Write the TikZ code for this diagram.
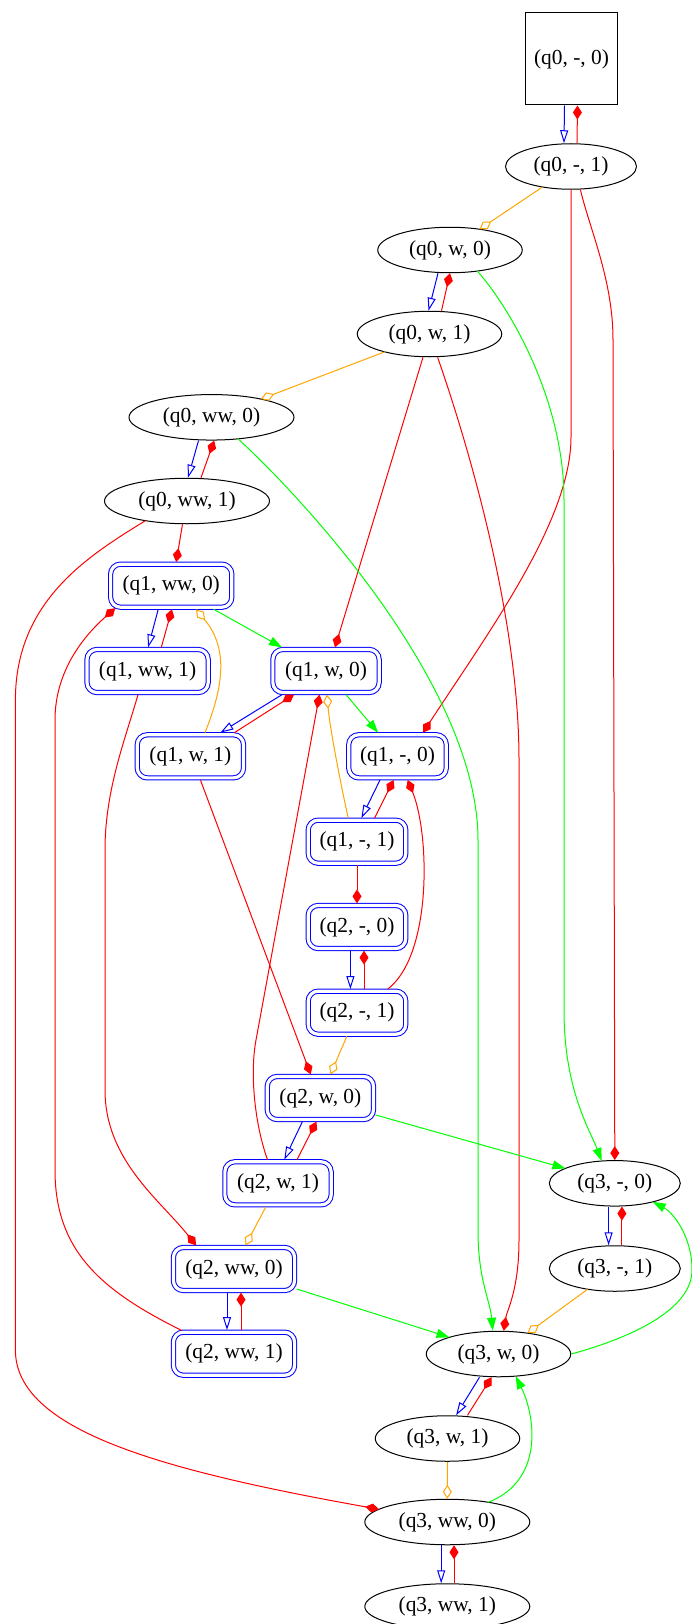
\documentclass[tikz,border=0pt]{standalone}
\usepackage{fontspec}
\setmainfont{Liberation Serif}
\usetikzlibrary{arrows.meta,calc,shapes.geometric}
\definecolor{laranjagv}{RGB}{255,165,0}

\begin{document}
\begin{tikzpicture}[x=1pt, y=-1pt,
    every node/.style={font=\fontsize{21.4}{24}\selectfont, inner sep=0pt},
    inicial/.style={draw, line width=1pt, minimum width=92pt, minimum height=92pt},
    elipse/.style={draw, ellipse, line width=1pt, minimum height=45.5pt, minimum width=#1},
    final/.style={draw=blue, double, double distance=3.2pt, line width=1pt,
        rounded corners=10pt, minimum height=43.1pt, minimum width=#1, outer sep=2.1pt},
    azul/.style={blue, line width=1pt, -{Triangle[open, length=13pt, width=8pt]}},
    verde/.style={green, line width=1pt, -{Triangle[length=13pt, width=9pt]}},
    vermelho/.style={red, line width=1pt, -{Diamond[length=14pt, width=9pt]}},
    laranja/.style={laranjagv, line width=1pt, -{Diamond[open, length=14pt, width=9pt]}}]

    \useasboundingbox (0,0) rectangle (691,1624);

    % estados q0
    \node[inicial] (q0e0) at (571.5,59) {(q0, -, 0)};
    \node[elipse=131pt] (q0e1) at (571,166.5) {(q0, -, 1)};
    \node[elipse=144.5pt] (q0w0) at (450,250) {(q0, w, 0)};
    \node[elipse=144.5pt] (q0w1) at (429.5,334) {(q0, w, 1)};
    \node[elipse=165pt] (q0ww0) at (211.5,417.3) {(q0, ww, 0)};
    \node[elipse=165pt] (q0ww1) at (187,501) {(q0, ww, 1)};

    % estados q1 e q2
    \node[final=121.2pt] (q1ww0) at (171.2,585.7) {(q1, ww, 0)};
    \node[final=121.2pt] (q1ww1) at (147.6,671) {(q1, ww, 1)};
    \node[final=106.3pt] (q1w0) at (326,671) {(q1, w, 0)};
    \node[final=106.3pt] (q1w1) at (190.4,756.3) {(q1, w, 1)};
    \node[final=97.6pt] (q1e0) at (397.5,756.3) {(q1, -, 0)};
    \node[final=97.6pt] (q1e1) at (357,841.7) {(q1, -, 1)};
    \node[final=97.6pt] (q2e0) at (357,927) {(q2, -, 0)};
    \node[final=97.6pt] (q2e1) at (357,1012.7) {(q2, -, 1)};
    \node[final=106.3pt] (q2w0) at (320.4,1098) {(q2, w, 0)};
    \node[final=106.3pt] (q2w1) at (278,1183.3) {(q2, w, 1)};
    \node[final=121.2pt] (q2ww0) at (234,1269) {(q2, ww, 0)};
    \node[final=121.2pt] (q2ww1) at (234,1353.7) {(q2, ww, 1)};

    % estados q3
    \node[elipse=131pt] (q3e0) at (614.8,1183.3) {(q3, -, 0)};
    \node[elipse=131pt] (q3e1) at (614.8,1268.5) {(q3, -, 1)};
    \node[elipse=144.5pt] (q3w0) at (498.5,1354) {(q3, w, 0)};
    \node[elipse=144.5pt] (q3w1) at (447.5,1438.5) {(q3, w, 1)};
    \node[elipse=165pt] (q3ww0) at (447.3,1522) {(q3, ww, 0)};
    \node[elipse=165pt] (q3ww1) at (447.3,1606.5) {(q3, ww, 1)};

    % arestas azuis
    \draw[azul] ([xshift=-7pt]q0e0.south) -- ([xshift=-7pt]q0e1.north);
    \draw[azul] ([xshift=-12pt]q0w0.south) -- ([xshift=-1pt]q0w1.north);
    \draw[azul] ([xshift=-13pt]q0ww0.south) -- ([xshift=1pt]q0ww1.north);
    \draw[azul] ([xshift=-13pt]q1ww0.south) -- ([xshift=0.5pt]q1ww1.north);
    \draw[azul] ([xshift=-44pt]q1w0.south) -- ([xshift=30pt]q1w1.north);
    \draw[azul] ([xshift=-17.5pt]q1e0.south) -- ([xshift=4.4pt]q1e1.north);
    \draw[azul] ([xshift=-6.6pt]q2e0.south) -- ([xshift=-6.6pt]q2e1.north);
    \draw[azul] ([xshift=-18pt]q2w0.south) -- ([xshift=6.3pt]q2w1.north);
    \draw[azul] ([xshift=-7pt]q2ww0.south) -- ([xshift=-7pt]q2ww1.north);
    \draw[azul] ([xshift=-6.2pt]q3e0.south) -- ([xshift=-6.2pt]q3e1.north);
    \draw[azul] ([xshift=-19pt]q3w0.south) -- ([xshift=8.6pt]q3w1.north);
    \draw[azul] ([xshift=-6.1pt]q3ww0.south) -- ([xshift=-6.1pt]q3ww1.north);

    % arestas vermelhas
    \draw[vermelho] ([xshift=6pt]q0e1.north) -- ([xshift=6pt]q0e0.south);
    \draw[vermelho] ([xshift=12pt]q0w1.north) -- (q0w0.south);
    \draw[vermelho] ([xshift=14pt]q0ww1.north) -- ([xshift=2.7pt]q0ww0.south);
    \draw[vermelho] ([xshift=13.7pt]q1ww1.north) -- ([xshift=0.7pt]q1ww0.south);
    \draw[vermelho] ([xshift=44pt]q1w1.north) -- ([xshift=-32pt]q1w0.south);
    \draw[vermelho] ([xshift=17.6pt]q1e1.north) -- ([xshift=-3.9pt]q1e0.south);
    \draw[vermelho] ([xshift=7pt]q2e1.north) -- ([xshift=7pt]q2e0.south);
    \draw[vermelho] ([xshift=19pt]q2w1.north) -- ([xshift=-4pt]q2w0.south);
    \draw[vermelho] ([xshift=7pt]q2ww1.north) -- ([xshift=7pt]q2ww0.south);
    \draw[vermelho] ([xshift=7.1pt]q3e1.north) -- ([xshift=7.1pt]q3e0.south);
    \draw[vermelho] ([xshift=20pt]q3w1.north) -- ([xshift=-7pt]q3w0.south);
    \draw[vermelho] ([xshift=6.7pt]q3ww1.north) -- ([xshift=6.7pt]q3ww0.south);
    \draw[vermelho] (q1e1.south) -- (q2e0.north);
    \draw[vermelho] ([xshift=-4.5pt]q0ww1.south) -- ([xshift=5pt]q1ww0.north);
    \draw[vermelho] ([xshift=-6.5pt]q0w1.south) -- ([xshift=9pt]q1w0.north);
    \draw[vermelho] ([xshift=10pt]q1w1.south) -- ([xshift=-9.7pt]q2w0.north);
    \draw[vermelho] (q0e1.south) -- (571,437) .. controls (571,520) and (490,630) .. ([xshift=25.5pt]q1e0.north);
    \draw[vermelho] ([xshift=9.4pt]q0e1.south) .. controls (590,230) and (613,280) .. (613,340) -- (q3e0.north);
    \draw[vermelho] ([xshift=8.1pt]q0w1.south) .. controls (470,450) and (519,620) .. (519,760)
        -- (519,1240) .. controls (519,1290) and (507,1310) .. ([xshift=5.2pt]q3w0.north);
    \draw[vermelho] ($(q0ww1)+(-41.6,19.65)$) .. controls (90,555) and (15.4,600) .. (15.4,700)
        -- (15.4,1350) .. controls (15.4,1430) and (160,1470) .. ($(q3ww0)+(-68.3,-12.76)$);
    \draw[vermelho] ([xshift=-9.6pt]q1ww1.south) .. controls (125,740) and (105,790) .. (105,850)
        -- (105,1090) .. controls (105,1160) and (160,1200) .. ([xshift=-37.9pt]q2ww0.north);
    \draw[vermelho] ($(q2ww1)+(-52.4,-23.3)$) .. controls (100,1290) and (55,1250) .. (55,1170)
        -- (55,720) .. controls (55,670) and (85,635) .. ($(q1ww0)+(-56,22.5)$);
    \draw[vermelho] ([xshift=-10.5pt]q2w1.north) .. controls (255,1125) and (249.6,1074.4) .. (256,1040)
        -- ([xshift=-6.5pt]q1w0.south);
    \draw[vermelho] ([xshift=30.8pt]q2e1.north) .. controls (432,955) and (430,835) .. ([xshift=10.2pt]q1e0.south);

    % arestas laranja
    \draw[laranja] ($(q0e1)+(-29,20.8)$) -- ($(q0w0)+(29.5,-20.7)$);
    \draw[laranja] ($(q0w1)+(-44.7,17.8)$) -- ($(q0ww0)+(49.5,-18.2)$);
    \draw[laranja] ([xshift=14.6pt]q1w1.north) .. controls (222,690) and (230,650) .. ([xshift=24.8pt]q1ww0.south);
    \draw[laranja] ([xshift=-8.8pt]q1e1.north) .. controls (342,790) and (330,730) .. ([xshift=1pt]q1w0.south);
    \draw[laranja] ([xshift=-10.2pt]q2e1.south) -- ([xshift=10.1pt]q2w0.north);
    \draw[laranja] ([xshift=-12.2pt]q2w1.south) -- ([xshift=11.5pt]q2ww0.north);
    \draw[laranja] ($(q3e1)+(-27.3,20.8)$) -- ($(q3w0)+(29,-20.8)$);
    \draw[laranja] (q3w1.south) -- (q3ww0.north);

    % arestas verdes
    \draw[verde] ($(q0w0)+(27.3,21)$) .. controls (510,308) and (564,400) .. (564,500)
        -- (564,1010) .. controls (564,1090) and (590,1130) .. ($(q3e0)+(-13.2,-22.3)$);
    \draw[verde] ($(q0ww0)+(26.5,21.5)$) .. controls (310,505) and (478,690) .. (478,840)
        -- (478,1230) .. controls (478,1280) and (490,1300) .. ([xshift=-5.8pt]q3w0.north);
    \draw[verde] ([xshift=42.6pt]q1ww0.south) -- ([xshift=-44pt]q1w0.north);
    \draw[verde] ([xshift=20pt]q1w0.south) -- ([xshift=-19.4pt]q1e0.north);
    \draw[verde] ([yshift=-17pt]q2w0.east) -- ($(q3e0)+(-49.4,-14.9)$);
    \draw[verde] ([yshift=-20pt]q2ww0.east) -- ($(q3w0)+(-49,-16.7)$);
    \draw[verde] (q3w0.east) .. controls (630,1338) and (692,1310) .. (692,1270)
        .. controls (692,1235) and (672,1212) .. ($(q3e0)+(38,18.5)$);
    \draw[verde] ($(q3ww0)+(41,-19.7)$) .. controls (545,1480) and (535,1415) .. ($(q3w0)+(17.1,22.1)$);

\end{tikzpicture}
\end{document}
